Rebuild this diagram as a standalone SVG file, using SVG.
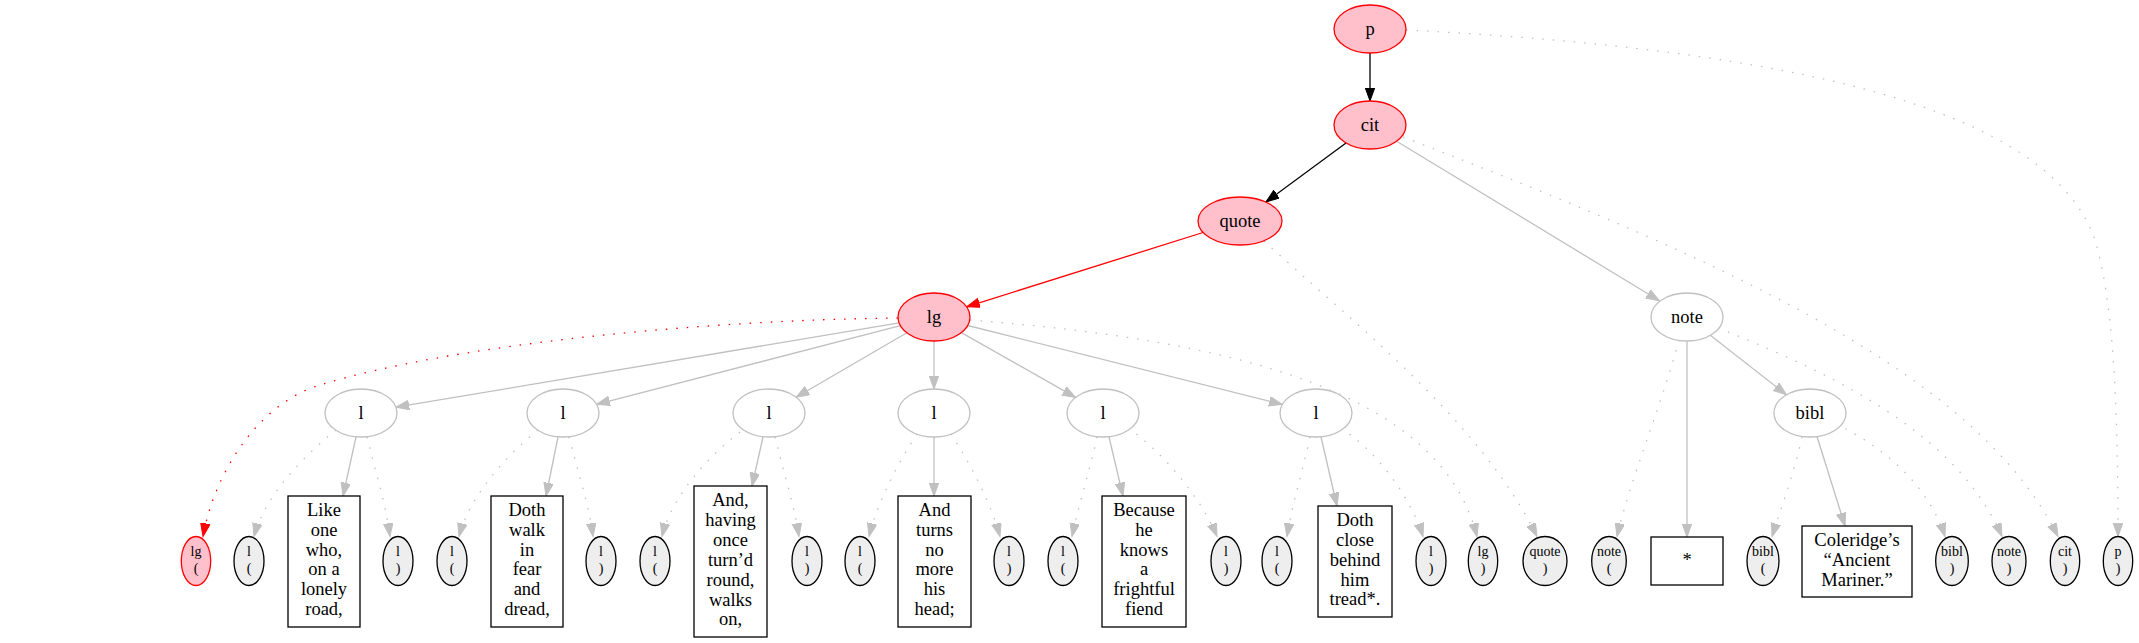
<svg xmlns="http://www.w3.org/2000/svg" width="2139" height="643" viewBox="0 0 2139 643">
<style>
text{font-family:"Liberation Serif","Times New Roman",serif;text-anchor:middle;fill:#000}
.t{font-size:18.5px}
.s{font-size:14px}
.red{fill:#ffc0cb;stroke:#ff0000;stroke-width:1.3}
.gry{fill:#ffffff;stroke:#c0c0c0;stroke-width:1.3}
.sm{fill:#eeeeee;stroke:#000000;stroke-width:1.3}
.bx{fill:#ffffff;stroke:#000000;stroke-width:1.3}
.e{fill:none;stroke-width:1.3}
.g{stroke:#c0c0c0}
.r{stroke:#ff0000}
.k{stroke:#000000}
.d{stroke-dasharray:1.5,9}
</style>
<defs>
<marker id="ag" markerUnits="userSpaceOnUse" markerWidth="15" markerHeight="11" refX="13.3" refY="4.8" orient="auto"><path d="M0,0 L13.3,4.8 L0,9.6 z" fill="#c0c0c0" stroke="#c0c0c0" stroke-width="1"/></marker>
<marker id="ar" markerUnits="userSpaceOnUse" markerWidth="15" markerHeight="11" refX="13.3" refY="4.8" orient="auto"><path d="M0,0 L13.3,4.8 L0,9.6 z" fill="#ff0000" stroke="#ff0000" stroke-width="1"/></marker>
<marker id="ak" markerUnits="userSpaceOnUse" markerWidth="15" markerHeight="11" refX="13.3" refY="4.8" orient="auto"><path d="M0,0 L13.3,4.8 L0,9.6 z" fill="#000000" stroke="#000000" stroke-width="1"/></marker>
</defs>
<rect width="2139" height="643" fill="#ffffff"/>
<g id="edges">
<path class="e k" marker-end="url(#ak)" d="M1370,53 L1370,101"/>
<path class="e k" marker-end="url(#ak)" d="M1346,143 L1266,202"/>
<path class="e r" marker-end="url(#ar)" d="M1203,232.5 L966.6,306.8"/>
<path class="e g" marker-end="url(#ag)" d="M1396.6,141.2 L1659.4,300.8"/>
<path class="e g d" marker-end="url(#ag)" d="M1406,30 C1800,50 2050,110 2095,240 C2113,300 2118,400 2118,536.5"/>
<path class="e g d" marker-end="url(#ag)" d="M1403,137 C1750,270 1980,380 2058,536.5"/>
<path class="e g d" marker-end="url(#ag)" d="M1264,241 C1350,320 1480,420 1537,536.5"/>
<path class="e r d" marker-end="url(#ar)" d="M898,318 C700,320 450,345 320,385 C260,403 215,470 203,536.5"/>
<path class="e g d" marker-end="url(#ag)" d="M970,320 C1230,340 1440,390 1477,536.5"/>
<path class="e g" marker-end="url(#ag)" d="M899.1,322.9 L395.9,407.2"/>
<path class="e g" marker-end="url(#ag)" d="M900.4,325.7 L596.6,404.3"/>
<path class="e g" marker-end="url(#ag)" d="M906.9,332.8 L796.1,397.2"/>
<path class="e g" marker-end="url(#ag)" d="M934,341 L934,389"/>
<path class="e g" marker-end="url(#ag)" d="M961.4,332.6 L1075.6,397.4"/>
<path class="e g" marker-end="url(#ag)" d="M967.7,325.5 L1282.3,404.5"/>
<path class="e g d" marker-end="url(#ag)" d="M336,430 C305,455 265,495 254,536.5"/>
<path class="e g" marker-end="url(#ag)" d="M356,437 L343,496"/>
<path class="e g d" marker-end="url(#ag)" d="M367,437 C375,470 385,500 390,536.5"/>
<path class="e g d" marker-end="url(#ag)" d="M538,430 C507,455 470,495 459,536.5"/>
<path class="e g" marker-end="url(#ag)" d="M558,437 L546,496"/>
<path class="e g d" marker-end="url(#ag)" d="M569,437 C577,470 588,500 593,536.5"/>
<path class="e g d" marker-end="url(#ag)" d="M740,432 C710,455 672,495 662,536.5"/>
<path class="e g" marker-end="url(#ag)" d="M763,437 L752,486"/>
<path class="e g d" marker-end="url(#ag)" d="M775,437 C783,470 793,500 799,536.5"/>
<path class="e g d" marker-end="url(#ag)" d="M917,434 C900,460 878,500 869,536.5"/>
<path class="e g" marker-end="url(#ag)" d="M934,437 L934,496"/>
<path class="e g d" marker-end="url(#ag)" d="M951,434 C968,460 990,500 1000,536.5"/>
<path class="e g d" marker-end="url(#ag)" d="M1097,437 C1090,470 1080,500 1072,536.5"/>
<path class="e g" marker-end="url(#ag)" d="M1109,437 L1123,496"/>
<path class="e g d" marker-end="url(#ag)" d="M1128,428 C1160,450 1200,495 1217,536.5"/>
<path class="e g d" marker-end="url(#ag)" d="M1310,437 C1303,470 1293,500 1287,536.5"/>
<path class="e g" marker-end="url(#ag)" d="M1321,437 L1337,506"/>
<path class="e g d" marker-end="url(#ag)" d="M1341,428 C1375,450 1410,495 1423,536.5"/>
<path class="e g d" marker-end="url(#ag)" d="M1679,340 C1660,410 1630,480 1617,536.5"/>
<path class="e g" marker-end="url(#ag)" d="M1687,341 L1687,537"/>
<path class="e g" marker-end="url(#ag)" d="M1710,335 L1786.5,394.8"/>
<path class="e g d" marker-end="url(#ag)" d="M1718,328 C1850,380 1960,440 2002,536.5"/>
<path class="e g d" marker-end="url(#ag)" d="M1802,437 C1795,470 1782,505 1772,536.5"/>
<path class="e g" marker-end="url(#ag)" d="M1817,436.5 L1845,526"/>
<path class="e g d" marker-end="url(#ag)" d="M1836,424 C1890,450 1930,490 1945,536.5"/>
</g>
<g id="n-p"><ellipse class="red" cx="1370" cy="29" rx="36" ry="24"/><text class="t" x="1370" y="35">p</text></g>
<g id="n-cit"><ellipse class="red" cx="1370" cy="125" rx="36" ry="24"/><text class="t" x="1370" y="131">cit</text></g>
<g id="n-quote"><ellipse class="red" cx="1240" cy="221" rx="42" ry="24"/><text class="t" x="1240" y="227">quote</text></g>
<g id="n-lg"><ellipse class="red" cx="934" cy="317" rx="36" ry="24"/><text class="t" x="934" y="323">lg</text></g>
<g id="n-note"><ellipse class="gry" cx="1687" cy="317" rx="36" ry="24"/><text class="t" x="1687" y="323">note</text></g>
<g id="n-l1"><ellipse class="gry" cx="361" cy="413" rx="36" ry="24"/><text class="t" x="361" y="419">l</text></g>
<g id="n-l2"><ellipse class="gry" cx="563" cy="413" rx="36" ry="24"/><text class="t" x="563" y="419">l</text></g>
<g id="n-l3"><ellipse class="gry" cx="769" cy="413" rx="36" ry="24"/><text class="t" x="769" y="419">l</text></g>
<g id="n-l4"><ellipse class="gry" cx="934" cy="413" rx="36" ry="24"/><text class="t" x="934" y="419">l</text></g>
<g id="n-l5"><ellipse class="gry" cx="1103" cy="413" rx="36" ry="24"/><text class="t" x="1103" y="419">l</text></g>
<g id="n-l6"><ellipse class="gry" cx="1316" cy="413" rx="36" ry="24"/><text class="t" x="1316" y="419">l</text></g>
<g id="n-bibl"><ellipse class="gry" cx="1810" cy="413" rx="36" ry="24"/><text class="t" x="1810" y="419">bibl</text></g>
<g id="n-lg-open"><ellipse class="red" cx="196" cy="561" rx="14.7" ry="24.5"/><text class="s" x="196" y="556">lg</text><text class="s" x="196" y="573">(</text></g>
<g id="n-l1-open"><ellipse class="sm" cx="249" cy="561" rx="15" ry="24.5"/><text class="s" x="249" y="556">l</text><text class="s" x="249" y="573">(</text></g>
<g id="n-t1"><rect class="bx" x="288" y="496" width="72" height="131"/><text class="t" x="324" y="515.8">Like</text><text class="t" x="324" y="535.7">one</text><text class="t" x="324" y="555.5">who,</text><text class="t" x="324" y="575.4">on a</text><text class="t" x="324" y="595.2">lonely</text><text class="t" x="324" y="615.1">road,</text></g>
<g id="n-l1-close"><ellipse class="sm" cx="398" cy="561" rx="15" ry="24.5"/><text class="s" x="398" y="556">l</text><text class="s" x="398" y="573">)</text></g>
<g id="n-l2-open"><ellipse class="sm" cx="452" cy="561" rx="15" ry="24.5"/><text class="s" x="452" y="556">l</text><text class="s" x="452" y="573">(</text></g>
<g id="n-t2"><rect class="bx" x="491" y="496" width="72" height="131"/><text class="t" x="527" y="515.8">Doth</text><text class="t" x="527" y="535.7">walk</text><text class="t" x="527" y="555.5">in</text><text class="t" x="527" y="575.4">fear</text><text class="t" x="527" y="595.2">and</text><text class="t" x="527" y="615.1">dread,</text></g>
<g id="n-l2-close"><ellipse class="sm" cx="601" cy="561" rx="15" ry="24.5"/><text class="s" x="601" y="556">l</text><text class="s" x="601" y="573">)</text></g>
<g id="n-l3-open"><ellipse class="sm" cx="655" cy="561" rx="15" ry="24.5"/><text class="s" x="655" y="556">l</text><text class="s" x="655" y="573">(</text></g>
<g id="n-t3"><rect class="bx" x="694" y="486" width="73" height="151"/><text class="t" x="730.5" y="506.2">And,</text><text class="t" x="730.5" y="526.1">having</text><text class="t" x="730.5" y="545.9">once</text><text class="t" x="730.5" y="565.8">turn’d</text><text class="t" x="730.5" y="585.6">round,</text><text class="t" x="730.5" y="605.5">walks</text><text class="t" x="730.5" y="625.4">on,</text></g>
<g id="n-l3-close"><ellipse class="sm" cx="807" cy="561" rx="15" ry="24.5"/><text class="s" x="807" y="556">l</text><text class="s" x="807" y="573">)</text></g>
<g id="n-l4-open"><ellipse class="sm" cx="860" cy="561" rx="15" ry="24.5"/><text class="s" x="860" y="556">l</text><text class="s" x="860" y="573">(</text></g>
<g id="n-t4"><rect class="bx" x="898" y="496" width="73" height="131"/><text class="t" x="934.5" y="515.8">And</text><text class="t" x="934.5" y="535.7">turns</text><text class="t" x="934.5" y="555.5">no</text><text class="t" x="934.5" y="575.4">more</text><text class="t" x="934.5" y="595.2">his</text><text class="t" x="934.5" y="615.1">head;</text></g>
<g id="n-l4-close"><ellipse class="sm" cx="1009" cy="561" rx="15" ry="24.5"/><text class="s" x="1009" y="556">l</text><text class="s" x="1009" y="573">)</text></g>
<g id="n-l5-open"><ellipse class="sm" cx="1063" cy="561" rx="15" ry="24.5"/><text class="s" x="1063" y="556">l</text><text class="s" x="1063" y="573">(</text></g>
<g id="n-t5"><rect class="bx" x="1102" y="496" width="84" height="131"/><text class="t" x="1144" y="515.8">Because</text><text class="t" x="1144" y="535.7">he</text><text class="t" x="1144" y="555.5">knows</text><text class="t" x="1144" y="575.4">a</text><text class="t" x="1144" y="595.2">frightful</text><text class="t" x="1144" y="615.1">fiend</text></g>
<g id="n-l5-close"><ellipse class="sm" cx="1226" cy="561" rx="15" ry="24.5"/><text class="s" x="1226" y="556">l</text><text class="s" x="1226" y="573">)</text></g>
<g id="n-l6-open"><ellipse class="sm" cx="1277" cy="561" rx="15" ry="24.5"/><text class="s" x="1277" y="556">l</text><text class="s" x="1277" y="573">(</text></g>
<g id="n-t6"><rect class="bx" x="1318" y="506" width="74" height="111"/><text class="t" x="1355" y="525.9">Doth</text><text class="t" x="1355" y="545.8">close</text><text class="t" x="1355" y="565.6">behind</text><text class="t" x="1355" y="585.5">him</text><text class="t" x="1355" y="605.3">tread*.</text></g>
<g id="n-l6-close"><ellipse class="sm" cx="1431" cy="561" rx="15" ry="24.5"/><text class="s" x="1431" y="556">l</text><text class="s" x="1431" y="573">)</text></g>
<g id="n-lg-close"><ellipse class="sm" cx="1483" cy="561" rx="14.7" ry="24.5"/><text class="s" x="1483" y="556">lg</text><text class="s" x="1483" y="573">)</text></g>
<g id="n-quote-close"><ellipse class="sm" cx="1545" cy="561" rx="22" ry="24.5"/><text class="s" x="1545" y="556">quote</text><text class="s" x="1545" y="573">)</text></g>
<g id="n-note-open"><ellipse class="sm" cx="1609" cy="561" rx="17.3" ry="24.5"/><text class="s" x="1609" y="556">note</text><text class="s" x="1609" y="573">(</text></g>
<g id="n-star"><rect class="bx" x="1651" y="537" width="72" height="48"/><text class="t" x="1687" y="566">*</text></g>
<g id="n-bibl-open"><ellipse class="sm" cx="1763" cy="561" rx="16" ry="24.5"/><text class="s" x="1763" y="556">bibl</text><text class="s" x="1763" y="573">(</text></g>
<g id="n-t7"><rect class="bx" x="1802" y="526" width="110" height="71"/><text class="t" x="1857" y="545.9">Coleridge’s</text><text class="t" x="1857" y="565.7">“Ancient</text><text class="t" x="1857" y="585.6">Mariner.”</text></g>
<g id="n-bibl-close"><ellipse class="sm" cx="1952" cy="561" rx="16.3" ry="24.5"/><text class="s" x="1952" y="556">bibl</text><text class="s" x="1952" y="573">)</text></g>
<g id="n-note-close"><ellipse class="sm" cx="2009" cy="561" rx="17" ry="24.5"/><text class="s" x="2009" y="556">note</text><text class="s" x="2009" y="573">)</text></g>
<g id="n-cit-close"><ellipse class="sm" cx="2065" cy="561" rx="14.7" ry="24.5"/><text class="s" x="2065" y="556">cit</text><text class="s" x="2065" y="573">)</text></g>
<g id="n-p-close"><ellipse class="sm" cx="2118" cy="561" rx="14.7" ry="24.5"/><text class="s" x="2118" y="556">p</text><text class="s" x="2118" y="573">)</text></g>
</svg>
